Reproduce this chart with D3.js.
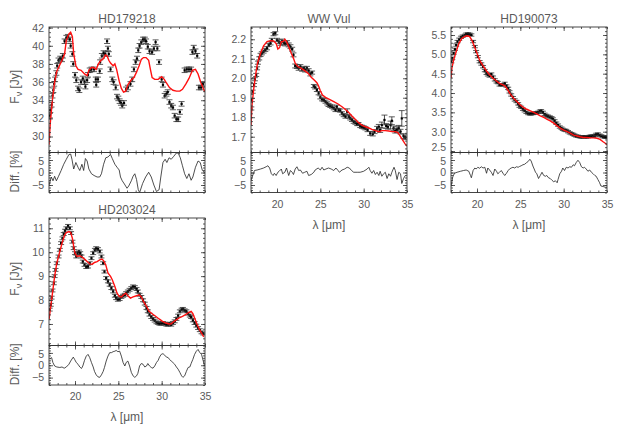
<!DOCTYPE html>
<html><head><meta charset="utf-8">
<script src="https://cdn.jsdelivr.net/npm/d3@7"></script>
<style>body{margin:0;background:#fff}svg{display:block}</style></head>
<body><svg id="chart" width="620" height="428"></svg>
<script>
// ---------------- data ----------------
const starNames = ["HD179218", "WW Vul", "HD190073", "HD203024"];
const xTickLabels = [20, 25, 30, 35];
const diffTickLabels = [-5, 0, 5];

// HD179218
const hd179218_obsWave = [17.1,17.15,17.3,17.4,17.5,17.6,17.7,17.85,17.95,18.1,18.3,18.5,18.6,18.8,19.0,19.2,19.4,19.5,19.7,19.8,20.0,20.15,20.35,20.5,20.7,20.9,21.1,21.2,21.4,21.5,21.7,21.9,22.2,22.4,22.45,22.65,22.85,22.9,23.1,23.3,23.5,23.7,23.8,23.9,24.1,24.3,24.45,24.7,24.85,25.0,25.15,25.3,25.45,25.65,25.9,26.1,26.4,26.6,26.8,27.0,27.15,27.3,27.45,27.65,27.85,28.05,28.2,28.4,28.6,28.9,29.1,29.3,29.5,29.7,30.0,30.15,30.35,30.55,30.7,30.9,31.1,31.3,31.5,31.7,31.9,32.1,32.3,32.65,32.9,33.15,33.4,33.55,33.7,33.9,34.1,34.3,34.55,34.75];
const hd179218_obsFlux = [32.3,32.9,33.5,34.5,35.1,35.8,36.3,37.0,37.8,38.4,38.6,38.5,38.9,40.5,40.9,41.0,40.7,40.0,39.1,38.0,36.8,36.2,35.3,35.1,36.0,36.4,36.0,35.5,36.2,36.8,37.3,37.4,37.4,36.3,35.7,36.3,37.2,38.2,38.9,39.2,39.1,40.5,39.7,39.1,37.4,36.3,36.0,35.4,34.4,34.2,33.9,33.7,33.4,33.7,35.2,35.4,35.8,36.3,37.4,38.2,38.6,39.5,40.0,40.4,40.7,40.7,40.5,39.9,39.4,39.3,39.7,40.4,39.7,38.2,36.3,35.7,34.5,34.7,34.9,33.8,33.4,33.2,32.3,31.9,31.9,32.7,33.6,37.3,37.4,37.4,37.4,39.3,39.8,39.4,38.9,35.4,35.4,35.8];
const hd179218_obsErr = [0.25];
const hd179218_modelWave = [17.0,17.15,17.4,17.65,17.9,18.2,18.5,18.8,19.0,19.3,19.5,19.7,19.85,20.1,20.35,20.7,21.1,21.4,21.6,21.9,22.15,22.45,22.7,23.0,23.3,23.5,23.7,23.9,24.1,24.4,24.6,24.8,25.1,25.35,25.6,25.85,26.1,26.45,26.8,27.1,27.4,27.65,27.9,28.2,28.5,28.7,28.9,29.2,29.6,30.0,30.3,30.55,30.9,31.3,31.7,32.1,32.4,32.8,33.15,33.55,33.9,34.2,34.5,34.85,35.0];
const hd179218_modelFlux = [29.1,31.5,34.1,36.0,37.2,37.8,38.4,39.1,40.6,41.3,41.5,41.0,39.1,37.8,37.4,37.3,36.9,36.7,37.3,37.6,37.6,37.4,38.0,38.4,38.6,39.0,38.9,38.4,38.1,37.8,38.0,37.4,36.1,35.3,34.9,35.0,35.7,36.2,36.5,37.1,37.8,38.5,38.7,38.7,38.4,37.4,36.5,36.3,36.3,36.6,36.3,35.9,35.4,35.1,35.0,35.0,35.2,35.8,36.4,37.3,37.4,36.9,36.0,35.2,34.9];
const hd179218_diffWave = [17.0,17.08,17.27,17.46,17.65,17.85,18.1,18.4,18.7,19.0,19.3,19.5,19.65,19.85,20.1,20.35,20.55,20.8,21.0,21.2,21.4,21.6,21.9,22.2,22.55,22.85,23.05,23.3,23.55,23.8,24.1,24.3,24.6,24.85,25.1,25.25,25.45,25.7,26.0,26.2,26.5,26.7,26.9,27.1,27.3,27.46,27.8,28.15,28.5,28.8,29.1,29.4,29.7,29.9,30.15,30.4,30.6,30.85,31.1,31.4,31.7,31.9,32.15,32.4,32.65,32.9,33.15,33.4,33.6,33.9,34.2,34.45,34.7,35.0];
const hd179218_diff = [-5.0,-4.1,-1.8,-3.3,-1.5,-3.3,-1.5,0.8,3.3,5.3,7.2,7.4,5.3,1.4,4.0,2.1,0.8,3.3,0.8,5.6,4.6,1.4,-0.5,-1.2,-1.8,-1.8,-0.5,3.3,5.9,6.2,7.2,5.6,3.3,2.1,1.0,-1.8,-3.3,-4.6,-6.3,-5.4,-3.3,-1.5,-0.5,-2.8,-6.9,-8.0,-4.4,-1.8,0.1,-1.8,-5.0,-7.6,-6.9,-1.8,4.0,5.3,4.0,5.9,5.3,6.5,7.8,7.8,5.9,2.7,-0.5,-2.4,-0.5,-3.1,-1.8,2.1,4.6,4.0,0.8,0.0];
const hd179218_yTicks = [30,32,34,36,38,40,42];
const hd179218_yRange = [28.24, 42.07];

// WW Vul
const wwvul_obsWave = [17.04,17.1,17.2,17.35,17.45,17.6,17.7,17.8,17.95,18.1,18.25,18.45,18.65,18.85,19.05,19.25,19.4,19.6,19.8,20.0,20.2,20.4,20.6,20.8,20.95,21.15,21.35,21.55,21.75,21.9,22.1,22.3,22.5,22.7,22.9,23.1,23.25,23.45,23.65,23.85,24.05,24.25,24.4,24.6,24.8,25.0,25.2,25.4,25.6,25.8,25.95,26.15,26.35,26.55,26.75,26.9,27.1,27.3,27.5,27.7,27.9,28.1,28.3,28.45,28.65,28.85,29.05,29.25,29.4,29.6,29.8,30.0,30.2,30.45,30.75,31.05,31.25,31.55,31.75,31.9,32.1,32.4,32.6,32.8,33.1,33.25,33.45,33.65,33.85,34.05,34.25,34.4,34.6,34.8];
const wwvul_obsFlux = [1.845,1.888,1.931,1.965,1.995,2.017,2.051,2.08,2.102,2.12,2.128,2.137,2.145,2.154,2.171,2.179,2.197,2.226,2.231,2.197,2.188,2.179,2.191,2.183,2.176,2.183,2.171,2.162,2.149,2.12,2.063,2.06,2.051,2.06,2.046,2.051,2.042,2.051,2.039,2.022,2.029,1.96,1.953,1.94,1.923,1.902,1.892,1.888,1.88,1.871,1.863,1.858,1.854,1.846,1.837,1.854,1.837,1.834,1.82,1.811,1.803,1.828,1.803,1.794,1.786,1.777,1.772,1.765,1.765,1.755,1.751,1.748,1.743,1.734,1.717,1.714,1.726,1.743,1.751,1.734,1.76,1.786,1.755,1.751,1.76,1.782,1.743,1.731,1.736,1.743,1.726,1.794,1.703,1.697];
const wwvul_obsErr = [0.008,0.008,0.008,0.008,0.008,0.008,0.008,0.008,0.008,0.008,0.008,0.008,0.008,0.008,0.008,0.008,0.008,0.008,0.008,0.008,0.01,0.01,0.01,0.01,0.01,0.01,0.01,0.01,0.01,0.01,0.01,0.01,0.01,0.01,0.01,0.01,0.01,0.01,0.01,0.01,0.008,0.008,0.008,0.008,0.008,0.008,0.008,0.008,0.008,0.008,0.008,0.008,0.008,0.008,0.008,0.008,0.008,0.008,0.008,0.008,0.008,0.015,0.008,0.008,0.008,0.008,0.008,0.008,0.008,0.008,0.008,0.008,0.008,0.008,0.01,0.01,0.01,0.01,0.012,0.012,0.015,0.025,0.012,0.012,0.02,0.02,0.012,0.012,0.015,0.015,0.012,0.04,0.012,0.012];
const wwvul_modelWave = [17.0,17.1,17.3,17.5,17.75,18.1,18.45,18.85,19.25,19.6,19.9,20.1,20.3,20.5,20.7,20.9,21.1,21.35,21.65,21.9,22.1,22.4,22.8,23.2,23.6,23.95,24.35,24.6,24.8,25.0,25.25,25.6,26.05,26.55,27.05,27.5,27.9,28.3,28.65,29.05,29.4,29.8,30.2,30.55,30.95,31.35,31.75,32.1,32.5,32.9,33.25,33.65,33.95,34.25,34.5,34.8,35.0];
const wwvul_modelFlux = [1.76,1.855,1.94,2.008,2.077,2.128,2.166,2.188,2.193,2.191,2.179,2.15,2.157,2.188,2.188,2.2,2.188,2.162,2.128,2.102,2.077,2.06,2.051,2.039,2.025,2.005,1.988,1.977,1.96,1.936,1.914,1.902,1.892,1.88,1.868,1.854,1.84,1.823,1.806,1.789,1.772,1.76,1.751,1.746,1.738,1.731,1.726,1.731,1.731,1.729,1.726,1.726,1.721,1.7,1.683,1.662,1.652];
const wwvul_diffWave = [17.0,17.2,17.4,17.7,18.1,18.45,18.75,18.95,19.15,19.35,19.55,19.7,19.9,20.1,20.25,20.5,20.65,20.9,21.1,21.35,21.55,21.75,21.9,22.1,22.3,22.5,22.7,22.95,23.2,23.45,23.65,23.95,24.25,24.4,24.75,25.0,25.2,25.4,25.65,25.95,26.25,26.55,26.8,27.05,27.2,27.5,27.8,28.1,28.35,28.6,28.85,29.25,29.6,30.0,30.4,30.6,30.75,30.95,31.15,31.35,31.55,31.75,31.9,32.1,32.3,32.5,32.7,32.9,33.1,33.25,33.5,33.65,33.85,34.05,34.25,34.4,34.6,34.8];
const wwvul_diff = [-3.1,-1.2,0.8,1.0,1.4,1.8,2.3,2.7,1.8,-0.5,-1.2,-0.3,-1.2,0.1,0.5,1.4,-0.5,0.1,1.8,-1.2,0.8,0.1,-0.8,1.4,2.3,0.8,1.0,-0.3,0.1,0.5,-1.2,-0.8,0.1,1.0,1.8,1.0,2.1,1.0,1.4,1.8,1.4,0.8,1.8,0.8,0.1,1.0,1.4,2.1,1.8,0.8,0.1,0.1,0.1,0.5,1.4,2.1,0.8,-0.3,0.8,-0.8,0.1,-1.2,0.5,-1.5,-0.5,0.1,-2.4,-0.5,-1.5,0.1,2.1,0.8,-2.8,0.1,-0.5,-4.4,-2.4,-1.2];
const wwvul_yTicks = [1.7,1.8,1.9,2.0,2.1,2.2];
const wwvul_yRange = [1.619, 2.263];

// HD190073
const hd190073_obsWave = [17.04,17.15,17.3,17.45,17.6,17.75,17.95,18.15,18.35,18.6,18.75,18.95,19.15,19.35,19.55,19.75,19.9,20.1,20.3,20.5,20.7,20.9,21.1,21.25,21.45,21.65,21.85,22.05,22.25,22.4,22.6,22.8,23.0,23.2,23.4,23.6,23.75,23.95,24.15,24.35,24.55,24.75,24.9,25.1,25.3,25.5,25.7,25.9,26.1,26.25,26.45,26.65,26.85,27.05,27.25,27.4,27.6,27.8,28.0,28.2,28.4,28.6,28.75,28.95,29.15,29.35,29.55,29.75,29.9,30.1,30.3,30.5,30.7,30.9,31.1,31.25,31.45,31.65,31.85,32.05,32.25,32.4,32.6,32.8,33.0,33.2,33.4,33.6,33.75,33.95,34.15,34.35,34.55,34.75,34.9];
const hd190073_obsFlux = [4.81,4.90,5.03,5.13,5.24,5.33,5.39,5.44,5.47,5.49,5.52,5.53,5.52,5.5,5.33,5.2,5.07,4.94,4.81,4.75,4.68,4.58,4.51,4.47,4.44,4.49,4.41,4.34,4.29,4.27,4.21,4.21,4.21,4.25,4.18,4.12,4.03,3.95,3.88,3.82,3.78,3.72,3.66,3.63,3.58,3.54,3.5,3.47,3.46,3.46,3.47,3.48,3.49,3.5,3.53,3.54,3.5,3.45,3.42,3.4,3.38,3.36,3.33,3.28,3.22,3.17,3.12,3.09,3.06,3.04,3.03,3.0,2.97,2.95,2.93,2.91,2.89,2.88,2.87,2.86,2.87,2.87,2.86,2.87,2.88,2.89,2.88,2.9,2.93,2.94,2.91,2.89,2.87,2.86,2.86];
const hd190073_obsErr = [0.03];
const hd190073_modelWave = [17.0,17.1,17.3,17.6,17.9,18.25,18.65,18.9,19.15,19.4,19.7,20.0,20.3,20.7,21.1,21.45,21.85,22.25,22.6,23.0,23.25,23.55,23.85,24.25,24.6,25.0,25.4,25.75,26.15,26.55,26.9,27.3,27.7,28.1,28.45,28.85,29.25,29.6,30.0,30.4,30.75,31.15,31.55,31.9,32.3,32.7,33.1,33.45,33.85,34.2,34.55,34.8,35.0];
const hd190073_modelFlux = [4.38,4.64,4.85,5.07,5.28,5.41,5.47,5.48,5.46,5.37,5.2,5.03,4.85,4.7,4.57,4.47,4.38,4.31,4.25,4.21,4.18,4.08,3.97,3.86,3.78,3.69,3.62,3.58,3.54,3.5,3.46,3.41,3.37,3.32,3.28,3.22,3.15,3.09,3.04,3.0,2.96,2.91,2.89,2.87,2.85,2.85,2.84,2.84,2.83,2.8,2.74,2.7,2.66];
const hd190073_diffWave = [17.0,17.2,17.4,17.7,18.1,18.45,18.75,19.05,19.25,19.35,19.55,19.75,19.9,20.1,20.3,20.5,20.7,20.9,21.1,21.25,21.45,21.65,21.85,22.05,22.25,22.4,22.6,22.8,23.0,23.2,23.4,23.6,23.75,23.95,24.15,24.35,24.55,24.75,24.9,25.1,25.3,25.5,25.7,25.9,26.1,26.25,26.45,26.6,26.75,26.9,27.1,27.3,27.5,27.7,27.9,28.05,28.25,28.45,28.65,28.85,29.05,29.25,29.35,29.55,29.75,29.9,30.1,30.3,30.5,30.7,30.9,31.1,31.25,31.45,31.65,31.85,32.05,32.25,32.4,32.6,32.8,33.0,33.2,33.4,33.6,33.75,33.95,34.15,34.3,34.55,34.8,35.0];
const hd190073_diff = [-5.6,-1.8,-0.3,0.1,0.5,0.8,1.0,0.5,-1.2,-2.1,0.8,1.8,1.4,2.1,1.7,2.3,1.8,2.1,-0.3,1.8,1.0,0.1,-1.2,1.4,0.5,-0.5,0.1,0.8,-0.3,-1.2,-0.3,0.8,1.4,1.8,2.1,1.8,2.3,2.1,2.4,2.7,3.1,3.3,3.9,4.4,5.3,4.6,2.6,1.4,0.1,-0.5,-2.4,-1.2,0.1,-1.2,-1.5,-1.2,-2.1,-2.4,-3.1,-3.7,-3.3,-4.1,-2.8,-0.5,0.5,1.8,0.8,2.1,1.8,2.3,2.1,3.1,2.7,4.0,4.9,4.0,2.3,1.8,2.1,1.4,0.5,1.0,0.1,-0.5,-1.2,-1.5,-2.8,-4.1,-5.4,-5.6,-5.9,-5.9];
const hd190073_yTicks = [2.5,3.0,3.5,4.0,4.5,5.0,5.5];
const hd190073_yRange = [2.462, 5.707];

// HD203024
const hd203024_obsWave = [17.08,17.2,17.3,17.4,17.55,17.65,17.75,17.9,18.1,18.25,18.4,18.55,18.7,18.85,19.0,19.2,19.4,19.55,19.7,19.85,20.0,20.15,20.3,20.45,20.6,20.75,20.9,21.1,21.3,21.5,21.7,21.9,22.1,22.3,22.45,22.65,22.85,23.05,23.25,23.4,23.6,23.8,24.0,24.2,24.4,24.6,24.75,24.95,25.15,25.35,25.55,25.75,25.9,26.1,26.3,26.5,26.7,26.9,27.1,27.25,27.45,27.65,27.85,28.05,28.25,28.4,28.6,28.8,29.0,29.2,29.4,29.6,29.75,29.95,30.15,30.35,30.55,30.75,30.9,31.1,31.3,31.5,31.7,31.9,32.1,32.3,32.45,32.65,32.85,33.05,33.25,33.4,33.6,33.8,34.0,34.2,34.4,34.6,34.8];
const hd203024_obsFlux = [7.6,7.8,8.1,8.4,8.7,9.0,9.26,9.54,9.82,10.1,10.38,10.58,10.76,10.9,11.0,11.1,11.0,10.8,10.44,10.17,9.96,9.82,9.96,10.03,9.96,9.82,9.61,9.47,9.38,9.4,9.54,9.75,9.96,10.1,10.17,10.13,10.03,9.82,9.54,9.19,8.92,8.78,8.64,8.5,8.36,8.18,8.08,8.01,8.04,8.13,8.18,8.22,8.29,8.36,8.43,8.5,8.57,8.54,8.46,8.36,8.22,8.13,7.99,7.85,7.67,7.53,7.39,7.29,7.21,7.14,7.07,7.04,7.01,7.01,7.04,7.01,6.97,6.97,7.01,6.97,7.04,7.11,7.21,7.35,7.53,7.6,7.63,7.57,7.53,7.43,7.35,7.29,7.15,7.04,6.93,6.83,6.74,6.65,6.6];
const hd203024_obsErr = [0.06];
const hd203024_modelWave = [17.0,17.15,17.4,17.65,17.9,18.25,18.55,18.8,19.0,19.3,19.5,19.7,19.85,20.0,20.25,20.55,20.85,21.1,21.4,21.7,22.0,22.25,22.55,22.85,23.1,23.3,23.55,23.8,24.1,24.3,24.6,24.85,25.1,25.35,25.6,25.85,26.1,26.4,26.7,27.1,27.4,27.65,27.9,28.25,28.55,28.9,29.3,29.7,30.1,30.5,30.85,31.1,31.3,31.6,32.0,32.4,32.75,33.15,33.4,33.6,33.8,34.1,34.4,34.7,34.85];
const hd203024_modelFlux = [7.18,7.6,8.29,8.99,9.54,10.03,10.44,10.72,10.82,10.86,10.82,10.58,10.24,9.96,9.82,9.85,9.79,9.71,9.61,9.51,9.5,9.57,9.61,9.68,9.71,9.65,9.47,9.13,8.99,8.85,8.57,8.29,8.15,8.13,8.22,8.29,8.18,8.08,8.13,8.18,8.22,8.13,7.94,7.74,7.53,7.43,7.32,7.21,7.11,7.04,7.0,7.01,7.07,7.15,7.25,7.32,7.39,7.49,7.53,7.43,7.25,6.97,6.74,6.56,6.46];
const hd203024_diffWave = [17.1,17.3,17.45,17.65,17.9,18.25,18.5,18.75,19.0,19.3,19.5,19.8,19.95,20.15,20.35,20.55,20.75,20.9,21.1,21.3,21.5,21.7,21.9,22.1,22.25,22.45,22.65,22.85,23.05,23.25,23.4,23.6,23.8,24.0,24.2,24.4,24.6,24.75,24.95,25.15,25.35,25.55,25.75,25.9,26.1,26.3,26.5,26.7,26.9,27.1,27.25,27.45,27.65,27.85,28.05,28.25,28.4,28.6,28.8,29.0,29.2,29.4,29.6,29.75,29.95,30.15,30.35,30.55,30.75,30.9,31.1,31.3,31.5,31.7,31.9,32.1,32.3,32.45,32.65,32.85,33.05,33.25,33.4,33.6,33.8,34.0,34.2,34.4,34.6,34.8,34.95];
const hd203024_diff = [2.4,3.1,1.1,-0.3,-0.7,-0.9,-0.7,-1.2,-0.7,0.4,1.7,3.3,2.4,1.1,0.4,-0.7,-1.3,-0.3,2.0,3.7,4.4,3.1,1.1,-0.7,-2.5,-3.9,-4.7,-4.9,-3.9,-2.5,-0.9,1.7,3.7,5.1,5.1,5.5,5.7,6.0,5.5,5.7,3.7,1.1,-0.3,1.1,1.7,-0.3,-2.9,-4.3,-4.9,-4.3,-3.3,-0.3,0.7,0.4,-0.7,-0.3,0.7,-0.3,-0.9,-1.2,-0.3,1.1,2.0,3.3,4.4,4.7,4.1,3.3,3.1,2.4,1.7,1.1,0.4,-0.7,-1.6,-2.9,-4.3,-4.9,-4.3,-2.5,-0.9,-0.7,0.7,2.4,4.4,5.7,6.4,5.1,4.4,1.7,-0.3];
const hd203024_yTicks = [7,8,9,10,11];
const hd203024_yRange = [6.10, 11.43];

// ---------------- layout / styles ----------------
const COLS = [49, 251, 451], PW = 156;
const ROWS = [{top:27, split:152.5, bottom:192.5}, {top:218, split:345.5, bottom:385}];
const FONT = "'Liberation Sans', Arial, Helvetica, sans-serif";
const TXT = "#5a5a5a";
const AX = "#333";

function pts(w, v, e) {
  const n = Math.min(w.length, v.length);
  return d3.range(n).map(i => ({x: w[i], y: v[i], e: e ? (e.length > 1 ? e[i] : e[0]) : 0}));
}

const panels = [
  {name: starNames[0], col:0, row:0, obs: pts(hd179218_obsWave, hd179218_obsFlux, hd179218_obsErr),
   model: pts(hd179218_modelWave, hd179218_modelFlux), diff: pts(hd179218_diffWave, hd179218_diff),
   yRange: hd179218_yRange, yTicks: hd179218_yTicks, yMinorStep: 0.5, fmt: d3.format("d"), xLabels:false},
  {name: starNames[1], col:1, row:0, obs: pts(wwvul_obsWave, wwvul_obsFlux, wwvul_obsErr),
   model: pts(wwvul_modelWave, wwvul_modelFlux), diff: pts(wwvul_diffWave, wwvul_diff),
   yRange: wwvul_yRange, yTicks: wwvul_yTicks, yMinorStep: 0.02, fmt: d3.format(".1f"), xLabels:true},
  {name: starNames[2], col:2, row:0, obs: pts(hd190073_obsWave, hd190073_obsFlux, hd190073_obsErr),
   model: pts(hd190073_modelWave, hd190073_modelFlux), diff: pts(hd190073_diffWave, hd190073_diff),
   yRange: hd190073_yRange, yTicks: hd190073_yTicks, yMinorStep: 0.1, fmt: d3.format(".1f"), xLabels:true},
  {name: starNames[3], col:0, row:1, obs: pts(hd203024_obsWave, hd203024_obsFlux, hd203024_obsErr),
   model: pts(hd203024_modelWave, hd203024_modelFlux), diff: pts(hd203024_diffWave, hd203024_diff),
   yRange: hd203024_yRange, yTicks: hd203024_yTicks, yMinorStep: 0.2, fmt: d3.format("d"), xLabels:true}
];

const svg = d3.select("#chart");
const xMinor = d3.range(17, 35.01, 1);
const xMajor = xTickLabels.filter(v => v < 35);
const diffMinor = d3.range(-8, 8.01, 1);

function styleAxis(g) {
  g.select(".domain").remove();
  g.selectAll("line").attr("stroke", AX).attr("stroke-width", 0.8);
  g.selectAll("text").attr("fill", TXT).style("font-family", FONT).style("font-size", "10.5px");
}

function ticksBox(g, x, y, yMajor, yMinor, L, T, B, yFmt, isDiff) {
  const R = L + PW;
  g.append("g").attr("transform", `translate(${L},0)`)
    .call(d3.axisLeft(y).tickValues(yMinor).tickSize(-2).tickFormat("")).call(styleAxis);
  const lab = g.append("g").attr("transform", `translate(${L},0)`)
    .call(d3.axisLeft(y).tickValues(yMajor).tickSize(-4).tickPadding(5).tickFormat(yFmt)).call(styleAxis);
  // nudge labels that sit right at the panel joint (as in the reference)
  lab.selectAll(".tick text").attr("dy", d => {
    const py = y(d);
    if (!isDiff && B - py < 4) return "-0.05em";
    if (isDiff && py - T < 10) return "0.42em";
    return "0.32em";
  });
  g.append("g").attr("transform", `translate(${R},0)`)
    .call(d3.axisRight(y).tickValues(yMinor).tickSize(-2).tickFormat("")).call(styleAxis);
  g.append("g").attr("transform", `translate(${R},0)`)
    .call(d3.axisRight(y).tickValues(yMajor).tickSize(-4).tickFormat("")).call(styleAxis);
  g.append("g").attr("transform", `translate(0,${T})`)
    .call(d3.axisTop(x).tickValues(xMinor).tickSize(-2).tickFormat("")).call(styleAxis);
  g.append("g").attr("transform", `translate(0,${T})`)
    .call(d3.axisTop(x).tickValues(xMajor).tickSize(-4).tickFormat("")).call(styleAxis);
  g.append("g").attr("transform", `translate(0,${B})`)
    .call(d3.axisBottom(x).tickValues(xMinor).tickSize(-2).tickFormat("")).call(styleAxis);
  g.append("g").attr("transform", `translate(0,${B})`)
    .call(d3.axisBottom(x).tickValues(xMajor).tickSize(-4).tickFormat("")).call(styleAxis);
  g.append("rect").attr("x", L).attr("y", T).attr("width", PW).attr("height", B - T)
    .attr("fill", "none").attr("stroke", AX).attr("stroke-width", 0.9);
}

panels.forEach((p, idx) => {
  const L = COLS[p.col], R = L + PW, r = ROWS[p.row];
  const g = svg.append("g");
  const x = d3.scaleLinear().domain([17, 35]).range([L, R]);
  const y = d3.scaleLinear().domain(p.yRange).range([r.split, r.top]);
  const yd = d3.scaleLinear().domain([-8, 8]).range([r.bottom, r.split]);

  const defs = svg.append("defs");
  defs.append("clipPath").attr("id", "cm" + idx).append("rect")
    .attr("x", L).attr("y", r.top).attr("width", PW).attr("height", r.split - r.top);
  defs.append("clipPath").attr("id", "cd" + idx).append("rect")
    .attr("x", L).attr("y", r.split).attr("width", PW).attr("height", r.bottom - r.split);

  const og = g.append("g").attr("clip-path", `url(#cm${idx})`);
  const pg = og.selectAll("g.pt").data(p.obs).join("g").attr("class", "pt");
  pg.append("line").attr("x1", d => x(d.x)).attr("x2", d => x(d.x))
    .attr("y1", d => y(d.y - d.e)).attr("y2", d => y(d.y + d.e))
    .attr("stroke", "#222").attr("stroke-width", 0.8);
  [-1, 1].forEach(s => {
    pg.append("line").attr("x1", d => x(d.x) - 3).attr("x2", d => x(d.x) + 3)
      .attr("y1", d => y(d.y + s * d.e)).attr("y2", d => y(d.y + s * d.e))
      .attr("stroke", "#333").attr("stroke-width", 0.8);
  });
  pg.append("rect").attr("x", d => x(d.x) - 1.1).attr("y", d => y(d.y) - 1.1)
    .attr("width", 2.2).attr("height", 2.2).attr("fill", "#000");

  g.append("path").datum(p.model).attr("clip-path", `url(#cm${idx})`)
    .attr("d", d3.line().x(d => x(d.x)).y(d => y(d.y)))
    .attr("fill", "none").attr("stroke", "#ff1010").attr("stroke-width", 1.4);

  g.append("path").datum(p.diff).attr("clip-path", `url(#cd${idx})`)
    .attr("d", d3.line().x(d => x(d.x)).y(d => yd(d.y)))
    .attr("fill", "none").attr("stroke", "#222").attr("stroke-width", 0.8);

  const yMinor = d3.range(Math.ceil(p.yRange[0] / p.yMinorStep) * p.yMinorStep, p.yRange[1], p.yMinorStep);
  const yMajor = p.yTicks.filter(v => v >= p.yRange[0] - 1e-9 && v <= p.yRange[1]);
  ticksBox(g, x, y, yMajor, yMinor, L, r.top, r.split, p.fmt, false);
  ticksBox(g, x, yd, diffTickLabels, diffMinor, L, r.split, r.bottom, d3.format("d"), true);

  if (p.xLabels) {
    g.append("g").attr("transform", `translate(0,${r.bottom})`)
      .call(d3.axisBottom(x).tickValues(xTickLabels).tickSize(0).tickPadding(8).tickFormat(d3.format("d")))
      .call(styleAxis);
    g.append("text").attr("x", L + PW / 2).attr("y", r.bottom + 36)
      .attr("text-anchor", "middle").attr("fill", TXT)
      .style("font-family", FONT).style("font-size", "12px").text("λ [μm]");
  }

  g.append("text").attr("x", L + PW / 2).attr("y", r.top - 4)
    .attr("text-anchor", "middle").attr("fill", TXT)
    .style("font-family", FONT).style("font-size", "12px").text(p.name);

  if (p.col === 0) {
    const t1 = g.append("text").attr("transform", `translate(19,${(r.top + r.split) / 2 - 3}) rotate(-90)`)
      .attr("text-anchor", "middle").attr("fill", TXT)
      .style("font-family", FONT).style("font-size", "12px");
    t1.append("tspan").text("F");
    t1.append("tspan").attr("dy", 3).style("font-size", "9px").text("ν");
    t1.append("tspan").attr("dy", -3).text(" [Jy]");
    g.append("text").attr("transform", `translate(19,${(r.split + r.bottom) / 2 - 1}) rotate(-90)`)
      .attr("text-anchor", "middle").attr("fill", TXT)
      .style("font-family", FONT).style("font-size", "12px").text("Diff. [%]");
  }
});
</script></body></html>
